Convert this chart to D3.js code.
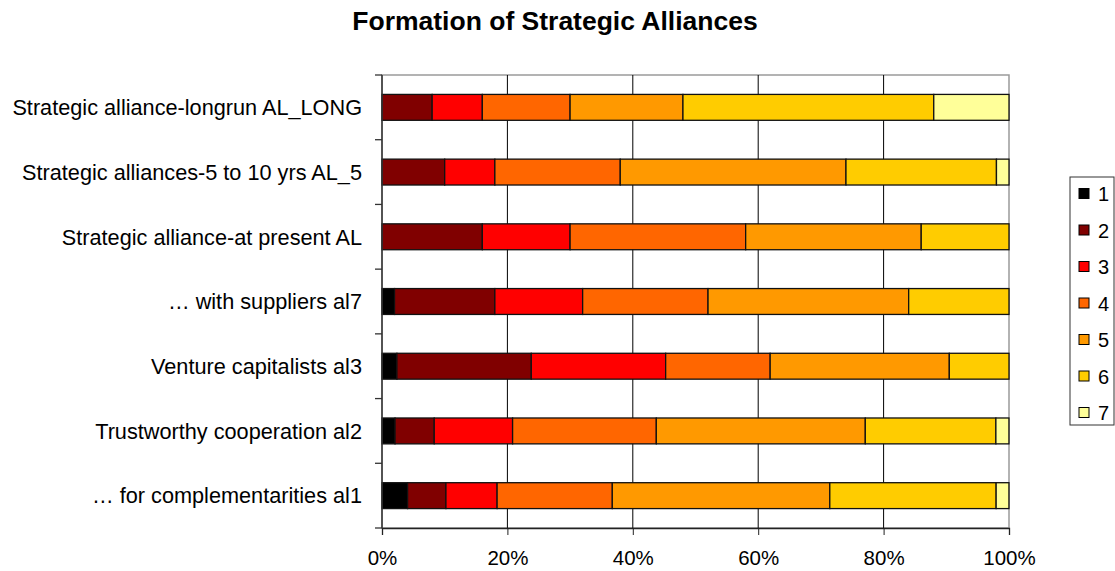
<!DOCTYPE html>
<html>
<head>
<meta charset="utf-8">
<script src="https://cdn.jsdelivr.net/npm/d3@7/dist/d3.min.js"></script>
<style>
  html, body { margin: 0; padding: 0; background: #fff; }
  svg { display: block; font-family: "Liberation Sans", Arial, Helvetica, sans-serif; }
</style>
</head>
<body>
<svg id="chart" width="1115" height="571"></svg>
<script>
// Items, listed top to bottom
const categories = [
  "Strategic alliance-longrun AL_LONG",
  "Strategic alliances-5 to 10 yrs AL_5",
  "Strategic alliance-at present AL",
  "\u2026 with suppliers al7",
  "Venture capitalists al3",
  "Trustworthy cooperation al2",
  "\u2026 for complementarities al1"
];

// Share of answers (%) per response level, one entry per item
const level1 = [0, 0, 0, 2, 2.38, 2.08, 4.08];
const level2 = [8, 10, 16, 16, 21.43, 6.25, 6.12];
const level3 = [8, 8, 14, 14, 21.43, 12.5, 8.16];
const level4 = [14, 20, 28, 20, 16.67, 22.92, 18.37];
const level5 = [18, 36, 28, 32, 28.57, 33.33, 34.69];
const level6 = [40, 24, 14, 16, 9.52, 20.83, 26.53];
const level7 = [12, 2, 0, 0, 0, 2.08, 2.04];

const levelNames = ["1", "2", "3", "4", "5", "6", "7"];
const levelColors = ["#000000", "#800000", "#FF0000", "#FF6600", "#FF9900", "#FFCC00", "#FFFF99"];
const xTicks = [0, 20, 40, 60, 80, 100];

const levels = [level1, level2, level3, level4, level5, level6, level7];
const rows = categories.map((c, i) => {
  const r = { category: c };
  levelNames.forEach((k, j) => { r[k] = levels[j][i]; });
  return r;
});

const svg = d3.select("#chart");
const plot = { left: 382, right: 1009, top: 75, bottom: 528 };

const x = d3.scaleLinear().domain([0, 100]).range([plot.left, plot.right]);
const y = d3.scaleBand().domain(categories).range([plot.top, plot.bottom])
  .paddingInner(0.6).paddingOuter(0.3);
const color = d3.scaleOrdinal().domain(levelNames).range(levelColors);

// Title
svg.append("text")
  .attr("x", 555).attr("y", 30)
  .attr("text-anchor", "middle")
  .attr("font-size", 26.5).attr("font-weight", "bold")
  .text("Formation of Strategic Alliances");

// Plot frame and vertical gridlines
svg.append("rect")
  .attr("x", plot.left).attr("y", plot.top)
  .attr("width", plot.right - plot.left).attr("height", plot.bottom - plot.top)
  .attr("fill", "none").attr("stroke", "#9a9a9a").attr("stroke-width", 1.5);

svg.append("g").selectAll("line")
  .data(xTicks.slice(1, -1))
  .join("line")
  .attr("x1", d => x(d)).attr("x2", d => x(d))
  .attr("y1", plot.top).attr("y2", plot.bottom)
  .attr("stroke", "#000").attr("stroke-width", 1);

// Stacked bars
const stack = d3.stack().keys(levelNames);
const series = stack(rows);

svg.append("g").selectAll("g")
  .data(series)
  .join("g")
  .attr("fill", d => color(d.key))
  .selectAll("rect")
  .data(d => d.filter(s => s[1] - s[0] > 0))
  .join("rect")
  .attr("x", d => x(d[0]))
  .attr("y", d => y(d.data.category))
  .attr("width", d => x(d[1]) - x(d[0]))
  .attr("height", y.bandwidth())
  .attr("stroke", "#111").attr("stroke-width", 1.3);

// Bottom axis
const xAxis = d3.axisBottom(x).tickValues(xTicks).tickFormat(d => d + "%")
  .tickSize(7).tickPadding(15);
const gx = svg.append("g").attr("transform", `translate(0,${plot.bottom})`).call(xAxis);
gx.select(".domain").attr("stroke", "#222").attr("stroke-width", 1.3);
gx.selectAll(".tick line").attr("stroke", "#222");
gx.selectAll("text").attr("font-size", 20.5).attr("fill", "#000")
  .attr("font-family", "'Liberation Sans', Arial, sans-serif");

// Left axis: line, ticks at category boundaries, labels
const step = y.step();
const boundaries = d3.range(categories.length + 1).map(i => plot.top + i * step);
svg.append("line")
  .attr("x1", plot.left).attr("x2", plot.left)
  .attr("y1", plot.top).attr("y2", plot.bottom)
  .attr("stroke", "#333").attr("stroke-width", 1.5);
svg.append("g").selectAll("line")
  .data(boundaries)
  .join("line")
  .attr("x1", plot.left - 7).attr("x2", plot.left)
  .attr("y1", d => d).attr("y2", d => d)
  .attr("stroke", "#333").attr("stroke-width", 1.3);
svg.append("g").selectAll("text")
  .data(categories)
  .join("text")
  .attr("x", 362)
  .attr("y", d => y(d) + y.bandwidth() / 2)
  .attr("dy", "0.36em")
  .attr("text-anchor", "end")
  .attr("font-size", 21.7)
  .text(d => d);

// Legend
const legend = svg.append("g");
legend.append("rect")
  .attr("x", 1070).attr("y", 177).attr("width", 44).attr("height", 248)
  .attr("fill", "#fff").attr("stroke", "#333").attr("stroke-width", 1);
const items = legend.selectAll("g.item")
  .data(levelNames)
  .join("g")
  .attr("class", "item")
  .attr("transform", (d, i) => `translate(1079,${194 + i * 36.5})`);
items.append("rect")
  .attr("x", 0).attr("y", -5.5).attr("width", 10).attr("height", 10)
  .attr("fill", d => color(d)).attr("stroke", "#000").attr("stroke-width", 1);
items.append("text")
  .attr("x", 19).attr("y", 0).attr("dy", "0.36em")
  .attr("font-size", 20)
  .text(d => d);
</script>
</body>
</html>
